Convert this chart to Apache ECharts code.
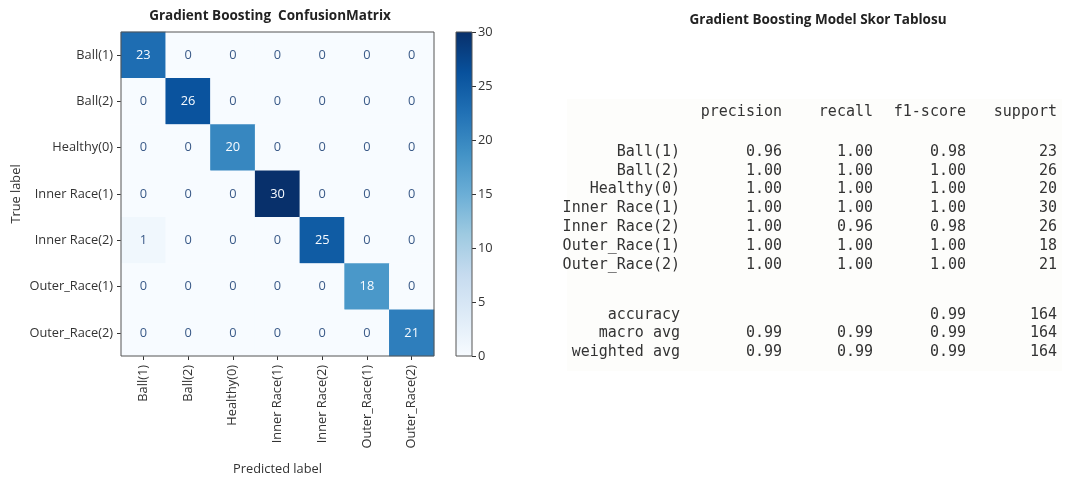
<!DOCTYPE html>
<html>
<head>
<meta charset="utf-8">
<script src="https://cdn.jsdelivr.net/npm/echarts@6/dist/echarts.min.js"></script>
<style>
  html, body { margin: 0; padding: 0; background: #ffffff; }
  #chart { width: 1065px; height: 481px; }
</style>
</head>
<body>
<div id="chart"></div>
<script>
// ---- data ----
const classes = ['Ball(1)', 'Ball(2)', 'Healthy(0)', 'Inner Race(1)', 'Inner Race(2)', 'Outer_Race(1)', 'Outer_Race(2)'];
// confusion matrix, rows = true label, columns = predicted label
const matrix = [
  [23, 0, 0, 0, 0, 0, 0],
  [0, 26, 0, 0, 0, 0, 0],
  [0, 0, 20, 0, 0, 0, 0],
  [0, 0, 0, 30, 0, 0, 0],
  [1, 0, 0, 0, 25, 0, 0],
  [0, 0, 0, 0, 0, 18, 0],
  [0, 0, 0, 0, 0, 0, 21]
];
const colorbarTicks = [0, 5, 10, 15, 20, 25, 30];

// classification report
const reportHeader = ['precision', 'recall', 'f1-score', 'support'];
const precision = ['0.96', '1.00', '1.00', '1.00', '1.00', '1.00', '1.00'];
const recall    = ['1.00', '1.00', '1.00', '1.00', '0.96', '1.00', '1.00'];
const f1score   = ['0.98', '1.00', '1.00', '1.00', '0.98', '1.00', '1.00'];
const support   = ['23', '26', '20', '30', '26', '18', '21'];
const summaryLabels = ['accuracy', 'macro avg', 'weighted avg'];
const summaryRows = [
  ['', '', '0.99', '164'],
  ['0.99', '0.99', '0.99', '164'],
  ['0.99', '0.99', '0.99', '164']
];

// ---- styling / layout ----
const BLUES = ['#f7fbff', '#deebf7', '#c6dbef', '#9ecae1', '#6baed6', '#4292c6', '#2171b5', '#08519c', '#08306b'];
const vMin = 0, vMax = 30;
const HM = { left: 121, top: 32, width: 313, height: 324 };
const CB = { left: 456, top: 32, width: 16, height: 324 };
const labelFont = '"Open Sans", "DejaVu Sans", sans-serif';
const monoFont = '"DejaVu Sans Mono", monospace';
const FS = 12.8;

const heatData = [];
matrix.forEach((row, r) => row.forEach((v, c) => {
  heatData.push({
    value: [c, r, v],
    label: { color: v > (vMin + vMax) / 2 ? '#f7fbff' : '#3a5a88' }
  });
}));

// gradient for the colour bar, bottom (min) to top (max)
const cbGradient = {
  type: 'linear', x: 0, y: 1, x2: 0, y2: 0,
  colorStops: BLUES.map((c, i) => ({ offset: i / (BLUES.length - 1), color: c }))
};

// classification report as text
const colRight = [680, 782, 873, 966, 1057];
const headerY = 112, rowY0 = 152, rowStep = 18.8, sumY0 = 315, sumStep = 18.5;
const tableText = [];
function cell(txt, col, y) {
  if (!txt) return;
  tableText.push({
    type: 'text', x: colRight[col], y: y,
    style: { text: txt, font: '15px ' + monoFont, fill: '#333', align: 'right', verticalAlign: 'middle' }
  });
}
reportHeader.forEach((h, i) => cell(h, i + 1, headerY));
classes.forEach((name, r) => {
  const y = rowY0 + r * rowStep;
  [name, precision[r], recall[r], f1score[r], support[r]].forEach((t, c) => cell(t, c, y));
});
summaryLabels.forEach((name, r) => {
  const y = sumY0 + r * sumStep;
  [name].concat(summaryRows[r]).forEach((t, c) => cell(t, c, y));
});

const chart = echarts.init(document.getElementById('chart'), null, { renderer: 'canvas' });
chart.setOption({
  backgroundColor: '#ffffff',
  animation: false,
  title: [
    { text: 'Gradient Boosting  ConfusionMatrix', left: 265, top: 4, textAlign: 'center',
      textStyle: { fontFamily: labelFont, fontSize: 13.5, fontWeight: 'bold', color: '#222' } },
    { text: 'Gradient Boosting Model Skor Tablosu', left: 813, top: 8, textAlign: 'center',
      textStyle: { fontFamily: labelFont, fontSize: 13.5, fontWeight: 'bold', color: '#222' } }
  ],
  grid: [
    { left: HM.left, top: HM.top, width: HM.width, height: HM.height },
    { left: CB.left, top: CB.top, width: CB.width, height: CB.height }
  ],
  xAxis: [
    {
      type: 'category', gridIndex: 0, data: classes, position: 'bottom',
      name: 'Predicted label', nameLocation: 'middle', nameGap: 107,
      nameTextStyle: { fontFamily: labelFont, fontSize: FS, color: '#333' },
      axisLine: { show: false },
      axisTick: { show: true, alignWithLabel: true, length: 4, lineStyle: { color: '#333' } },
      axisLabel: { rotate: 90, interval: 0, margin: 9, fontFamily: labelFont, fontSize: FS, color: '#333' },
      splitLine: { show: false }
    },
    {
      type: 'category', gridIndex: 1, data: ['bar'], show: false
    }
  ],
  yAxis: [
    {
      type: 'category', gridIndex: 0, data: classes, inverse: true,
      name: 'True label', nameLocation: 'middle', nameGap: 98, nameRotate: 90,
      nameTextStyle: { fontFamily: labelFont, fontSize: FS, color: '#333' },
      axisLine: { show: false },
      axisTick: { show: true, alignWithLabel: true, length: 4, lineStyle: { color: '#333' } },
      axisLabel: { interval: 0, margin: 8, fontFamily: labelFont, fontSize: FS, color: '#333' },
      splitLine: { show: false }
    },
    {
      type: 'value', gridIndex: 1, position: 'right', min: vMin, max: vMax, interval: 5,
      axisLine: { show: false },
      axisTick: { show: true, length: 4, lineStyle: { color: '#333' } },
      axisLabel: { margin: 6, fontFamily: labelFont, fontSize: FS, color: '#333',
        formatter: v => colorbarTicks.includes(v) ? String(v) : '' },
      splitLine: { show: false }
    }
  ],
  visualMap: {
    show: false, type: 'continuous', min: vMin, max: vMax, dimension: 2, seriesIndex: 0,
    inRange: { color: BLUES }
  },
  series: [
    {
      type: 'heatmap', xAxisIndex: 0, yAxisIndex: 0, data: heatData,
      label: { show: true, fontFamily: labelFont, fontSize: FS, formatter: p => String(p.value[2]) },
      itemStyle: { borderWidth: 0 },
      emphasis: { disabled: true }
    },
    {
      type: 'bar', xAxisIndex: 1, yAxisIndex: 1, data: [vMax], barWidth: '100%',
      itemStyle: { color: cbGradient }, silent: true
    }
  ],
  graphic: [
    // faint panel behind the report
    { type: 'rect', shape: { x: 567, y: 99, width: 495, height: 272 }, style: { fill: '#fdfdfb' }, z: -10, silent: true },
    // frames around the matrix and the colour bar
    { type: 'rect', shape: { x: HM.left, y: HM.top, width: HM.width, height: HM.height },
      style: { fill: 'none', stroke: '#555', lineWidth: 1 }, z: 100, silent: true },
    { type: 'rect', shape: { x: CB.left, y: CB.top, width: CB.width, height: CB.height },
      style: { fill: 'none', stroke: '#555', lineWidth: 1 }, z: 100, silent: true },
    { type: 'group', children: tableText, z: 100 }
  ]
});
</script>
</body>
</html>
